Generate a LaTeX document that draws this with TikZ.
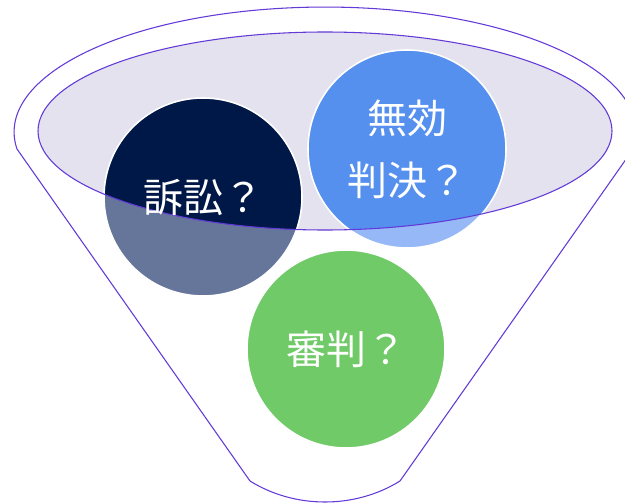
\documentclass[tikz,border=0pt]{standalone}
\usepackage{fontspec}
\newfontfamily\cjk{Noto Sans CJK JP}
\definecolor{funnelline}{RGB}{98,58,215}
\definecolor{lav}{RGB}{228,226,238}
\definecolor{navy}{RGB}{0,24,72}
\definecolor{navylt}{RGB}{102,118,154}
\definecolor{blueA}{RGB}{85,144,238}
\definecolor{blueB}{RGB}{150,184,246}
\definecolor{greenA}{RGB}{113,202,104}
\begin{document}
\begin{tikzpicture}[x=0.75pt,y=-0.75pt,
  outline/.style={draw=funnelline,line width=0.8pt},
  rim/.style={draw=white,line width=1.2pt},
  txt/.style={text=white,font=\cjk\fontsize{30}{46.5}\selectfont,align=center,inner sep=0pt}]
\clip (0,0) rectangle (625,503);
\fill[white] (0,0) rectangle (625,503);
% inner ellipse fill
\fill[lav] (325,131) ellipse [x radius=287,y radius=99];
% navy circle
\fill[navylt,rim] (203,197) circle [radius=99];
\begin{scope}
  \clip (325,131) ellipse [x radius=287,y radius=99];
  \fill[navy] (203,197) circle [radius=98];
\end{scope}
% blue circle
\fill[blueB,rim] (407,149) circle [radius=99];
\begin{scope}
  \clip (325,131) ellipse [x radius=287,y radius=99];
  \fill[blueA] (407,149) circle [radius=98];
\end{scope}
% green circle
\fill[greenA,rim] (346,349) circle [radius=99];
% inner ellipse outline
\draw[outline] (325,131) ellipse [x radius=287,y radius=99];
% outer funnel outline
\draw[outline,line join=round] (250,481) -- (17,149)
  arc [start angle=172.2,end angle=367.8,x radius=311,y radius=125]
  -- (400,481) .. controls (355,509) and (295,509) .. (250,481) -- cycle;
% texts
\node[txt] (t1) at (203,197) {訴訟？};
\node[txt] (t2) at (407,149) {無効\\判決？};
\node[txt] (t3) at (346,349) {審判？};
\end{tikzpicture}
\end{document}
